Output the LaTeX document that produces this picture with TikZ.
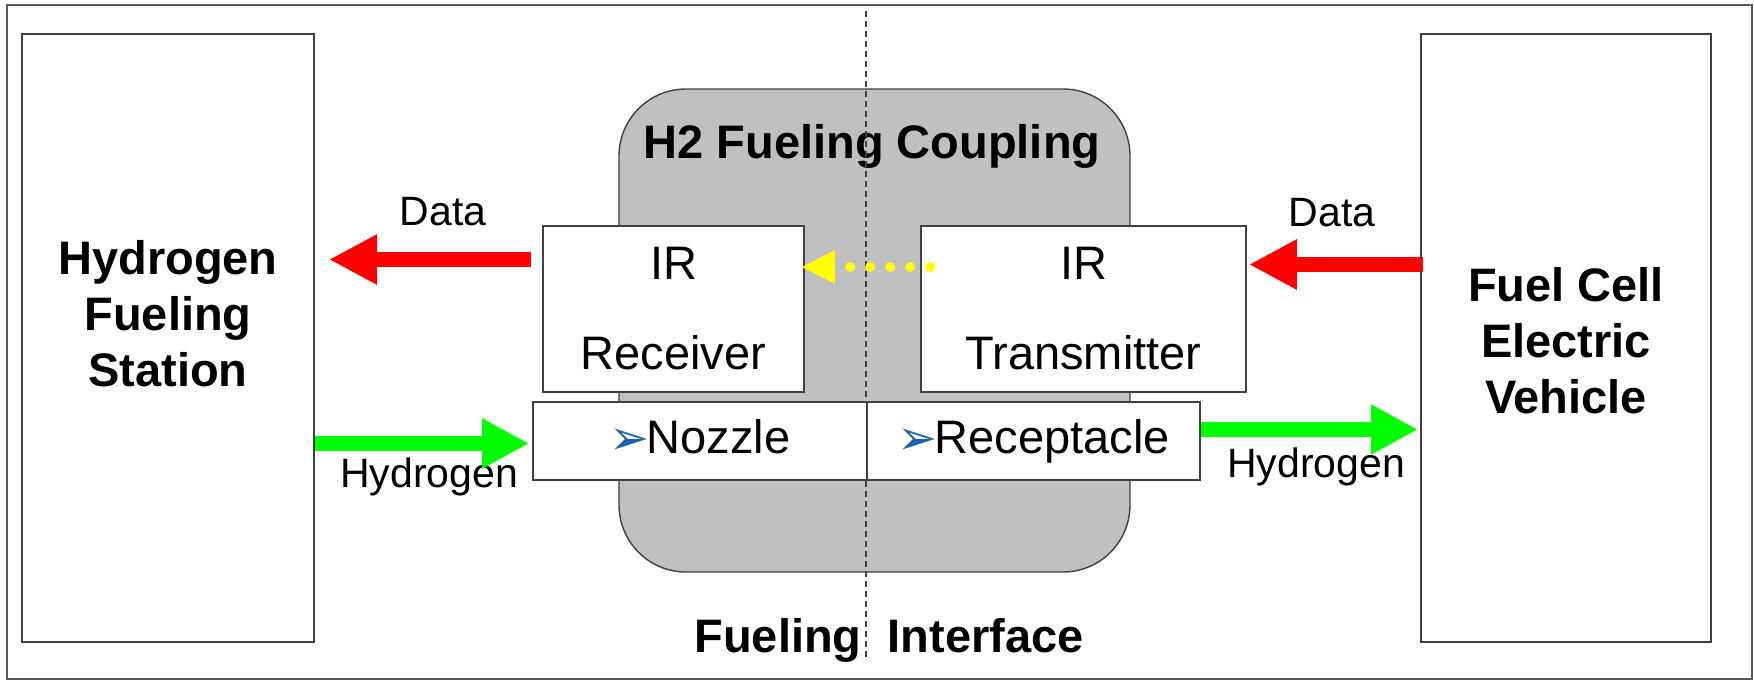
\documentclass[tikz,border=0pt]{standalone}
\usepackage{fontspec}
\setmainfont{Liberation Sans}
\newfontfamily\symfont{DejaVu Sans}
\usetikzlibrary{arrows.meta,calc}
\definecolor{boxline}{HTML}{404040}
\definecolor{couplegray}{HTML}{C0C0C0}
\definecolor{bulletblue}{RGB}{31,95,175}
\definecolor{fuelgreen}{HTML}{00FF00}
\definecolor{datared}{HTML}{FF0000}
\definecolor{iryellow}{HTML}{FFFF00}
\newcommand{\bigfont}{\fontsize{23.5}{28}\selectfont}
\newcommand{\lblfont}{\fontsize{20.5}{24}\selectfont}
\newcommand{\blt}{\raisebox{-0.5pt}{\symfont\fontsize{24}{24}\selectfont\color{bulletblue}➢}\hspace{-1.5pt}}
\begin{document}
\begin{tikzpicture}[x=0.5pt,y=-0.5pt,
  framestyle/.style={draw=gray!70!black,line width=0.9pt},
  sidebox/.style={draw=boxline,line width=1pt,fill=white,inner sep=0pt,minimum width=146pt,minimum height=304pt},
  couplebox/.style={draw=boxline,line width=0.7pt,fill=couplegray,rounded corners=33.5pt,inner sep=0pt,minimum width=255.5pt,minimum height=241.5pt},
  irbox/.style={draw=boxline,line width=0.9pt,fill=white,inner sep=0pt,align=center,font=\bigfont,minimum height=83pt},
  partbox/.style={draw=boxline,line width=0.9pt,fill=white,inner sep=0pt,font=\bigfont,minimum height=39pt,text height=17pt,text depth=5pt},
  boldlbl/.style={inner sep=0pt,align=center,font=\bigfont\bfseries},
  smalllbl/.style={inner sep=0pt,font=\lblfont},
  divider/.style={draw=black!75,line width=0.6pt,dash pattern=on 3pt off 2pt},
  redarrow/.style={draw=datared,line width=7.75pt,-{Triangle[length=24pt,width=23.5pt]}},
  greenarrow/.style={draw=fuelgreen,line width=7.5pt,-{Triangle[length=23.5pt,width=23.5pt]}},
  irarrow/.style={draw=iryellow,line width=5pt,line cap=round,dash pattern=on 0pt off 10pt,-{Triangle[length=17pt,width=15.5pt]}}
]
\useasboundingbox (0,0) rectangle (1754,680);
\draw[framestyle] (7,5) rectangle (1752,679);

\node[sidebox] (station) at (168,338) {};
\node[sidebox,minimum width=145pt] (vehicle) at (1566,338) {};
\node[boldlbl] (stationlbl) at (168,314) {Hydrogen\\Fueling\\Station};
\node[boldlbl] (vehiclelbl) at (1566,341) {Fuel Cell\\Electric\\Vehicle};

\node[couplebox] (coupling) at (874.5,330.5) {};
\node[boldlbl] (title) at (872,146) {H2 Fueling Coupling};

\coordinate (dtop) at (866,11);
\coordinate (dbot) at (866,658);
\draw[divider] (dtop) -- (dbot);

\node[irbox,minimum width=130.5pt] (rx) at (673.5,309) {IR\\[17pt]Receiver};
\node[irbox,minimum width=162.5pt] (tx) at (1083.5,309) {IR\\[17pt]Transmitter};
\node[partbox,minimum width=167pt] (nozzle) at (700,441) {\blt Nozzle};
\node[partbox,minimum width=166.5pt] (recep) at (1033.5,441) {\blt Receptacle};

\node[boldlbl] (fi) at (889,640) {Fueling\ \ Interface};

\node[smalllbl] (datal) at (443,211.5) {Data};
\node[smalllbl] (datar) at (1332,212.5) {Data};
\node[smalllbl] (h2l) at (429,477) {Hydrogen};
\node[smalllbl] (h2r) at (1316,467) {Hydrogen};

\draw[redarrow] ($(rx.west)+(-11,-49.5)$) -- ($(station.east)+(14,-78.5)$);
\draw[redarrow] ($(vehicle.west)+(3,-73.5)$) -- ($(tx.east)+(2,-44.5)$);
\draw[greenarrow] ($(station.east)+(0,105.5)$) -- ($(nozzle.west)+(-3,2.5)$);
\draw[greenarrow] ($(recep.east)+(0,-11.5)$) -- ($(vehicle.west)+(-2,91.5)$);
\draw[irarrow] ($(tx.west)+(10,-42)$) -- ($(rx.east)+(-4,-42)$);
\end{tikzpicture}
\end{document}
